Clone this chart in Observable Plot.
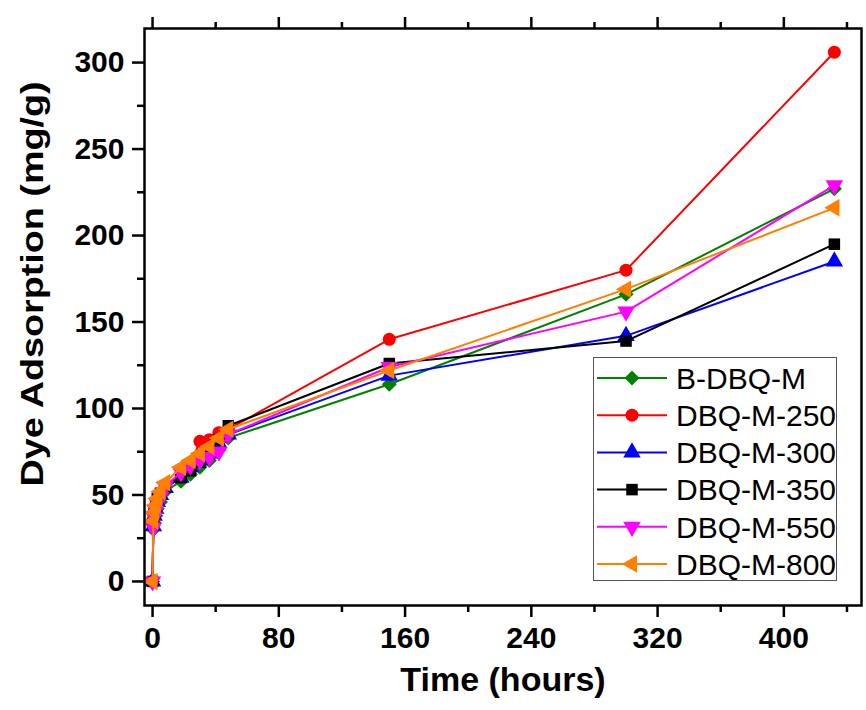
<!DOCTYPE html>
<html>
<head>
<meta charset="utf-8">
<script src="https://cdn.jsdelivr.net/npm/d3@7"></script>
<script src="https://cdn.jsdelivr.net/npm/@observablehq/plot@0.6"></script>
<style>
  html, body { margin: 0; padding: 0; background: white; }
  #wrap { position: relative; width: 866px; height: 710px; }
  #legend { position: absolute; left: 593px; top: 357px; width: 244px; height: 224px;
            border: 1.5px solid #555; background: white; box-sizing: border-box; }
</style>
</head>
<body>
<div id="wrap"><div id="legend"></div></div>
<script>
// ---- data ----
const hours = [0, 0.5, 1, 2, 3, 5, 8, 18, 24, 30, 36, 42, 48, 150, 300, 432];
const seriesNames = ["B-DBQ-M", "DBQ-M-250", "DBQ-M-300", "DBQ-M-350", "DBQ-M-550", "DBQ-M-800"];
const bDBQM    = [0, 30, 34, 38, 42, 46, 52, 58, 62, 66, 70, 76, 83, 114, 166, 227];
const dbqm250  = [0, 34, 40, 44, 47, 50, 55, 62, 68, 81, 82, 86, 88, 140, 180, 306];
const dbqm300  = [0, 32, 38, 42, 46, 50, 54, 60, 66, 70, 74, 80, 85, 119, 142, 185];
const dbqm350  = [0, 33, 39, 44, 48, 51, 55, 60, 64, 69, 74, 82, 90, 126, 139, 195];
const dbqm550  = [0, 31, 37, 41, 45, 49, 55, 63, 67, 70, 72, 75, 85, 124, 156, 229];
const dbqm800  = [0, 35, 40, 44, 48, 52, 57, 66, 70, 74, 78, 83, 88, 122, 169, 216];
const xMajorTicks = [0, 80, 160, 240, 320, 400];
const xMinorTicks = [40, 120, 200, 280, 360, 440];
const yMajorTicks = [0, 50, 100, 150, 200, 250, 300];
const yMinorTicks = [25, 75, 125, 175, 225, 275];
const xTitle = "Time (hours)";
const yTitle = "Dye Adsorption (mg/g)";

// ---- styles ----
const colors  = ["#008000", "#ff0000", "#0000ff", "#000000", "#ff00ff", "#ff8000"];
const symbols = ["square", "circle", "triangle", "square", "triangle", "triangle"];
const rotates = [45, 0, 0, 0, 180, -90];
const radii   = [6, 6.5, 6.5, 6.5, 6.5, 6.5];
const allValues = [bDBQM, dbqm250, dbqm300, dbqm350, dbqm550, dbqm800];

const seriesData = allValues.map(vals => hours.map((t, i) => ({t, v: vals[i]})));

const font = "'Liberation Sans', Arial, sans-serif";

const marks = [];
seriesData.forEach((d, k) => {
  marks.push(Plot.line(d, {x: "t", y: "v", stroke: colors[k], strokeWidth: 2}));
  marks.push(Plot.dot(d, {x: "t", y: "v", fill: colors[k], stroke: "none",
    symbol: symbols[k], r: radii[k], rotate: rotates[k]}));
});

const chart = Plot.plot({
  width: 866, height: 710,
  marginLeft: 144, marginRight: 5, marginTop: 28, marginBottom: 105,
  style: {fontFamily: font, background: "white", overflow: "visible"},
  x: {domain: [-5.1, 449.2]},
  y: {domain: [-13.9, 319.7]},
  marks: [
    Plot.axisX({ticks: xMajorTicks, tickSize: 12, tickPadding: 9, fontSize: 30, fontWeight: "bold",
      strokeWidth: 2.5, label: null, tickFormat: d => String(d), color: "black"}),
    Plot.axisX({ticks: xMinorTicks, tickSize: 7, strokeWidth: 2.5, label: null, tickFormat: () => ""}),
    Plot.axisX({anchor: "top", ticks: xMajorTicks, tickSize: 12, strokeWidth: 2.5, label: null, tickFormat: () => ""}),
    Plot.axisX({anchor: "top", ticks: xMinorTicks, tickSize: 7, strokeWidth: 2.5, label: null, tickFormat: () => ""}),
    Plot.axisY({ticks: yMajorTicks, tickSize: 12, tickPadding: 8, fontSize: 30, fontWeight: "bold",
      strokeWidth: 2.5, label: null, tickFormat: d => String(d)}),
    Plot.axisY({ticks: yMinorTicks, tickSize: 7, strokeWidth: 2.5, label: null, tickFormat: () => ""}),
    ...marks,
    Plot.frame({stroke: "black", strokeWidth: 2.5}),
    Plot.text([xTitle], {frameAnchor: "bottom", dy: 75, fontSize: 34, fontWeight: "bold",
      lineAnchor: "middle", textAnchor: "middle", fill: "black"}),
    Plot.text([yTitle], {frameAnchor: "left", dx: -111, dy: -33, rotate: -90, fontSize: 31, fontWeight: "bold",
      lineAnchor: "middle", textAnchor: "middle", fill: "black"})
  ]
});

d3.select(chart).selectAll("text").filter(function() { return this.textContent === yTitle; })
  .attr("textLength", 405).attr("lengthAdjust", "spacingAndGlyphs");

const wrap = document.getElementById("wrap");
wrap.insertBefore(chart, wrap.firstChild);
chart.style.position = "absolute";
chart.style.left = "0px";
chart.style.top = "0px";

// ---- legend ----
const lg = d3.select("#legend").append("svg").attr("width", 244).attr("height", 224)
  .style("font-family", font);
const d3sym = {square: d3.symbolSquare, circle: d3.symbolCircle, triangle: d3.symbolTriangle};
seriesNames.forEach((name, k) => {
  const g = lg.append("g").attr("transform", `translate(0,${20 + k * 37.2})`);
  g.append("line").attr("x1", 3).attr("x2", 73).attr("y1", 0).attr("y2", 0)
    .attr("stroke", colors[k]).attr("stroke-width", 2);
  g.append("path").attr("d", d3.symbol(d3sym[symbols[k]], Math.PI * radii[k] * radii[k])())
    .attr("transform", `translate(38,0) rotate(${rotates[k]})`).attr("fill", colors[k]);
  g.append("text").attr("x", 82).attr("y", 0).attr("dy", "0.36em")
    .attr("font-size", 30).attr("fill", "black").text(name);
});
</script>
</body>
</html>
